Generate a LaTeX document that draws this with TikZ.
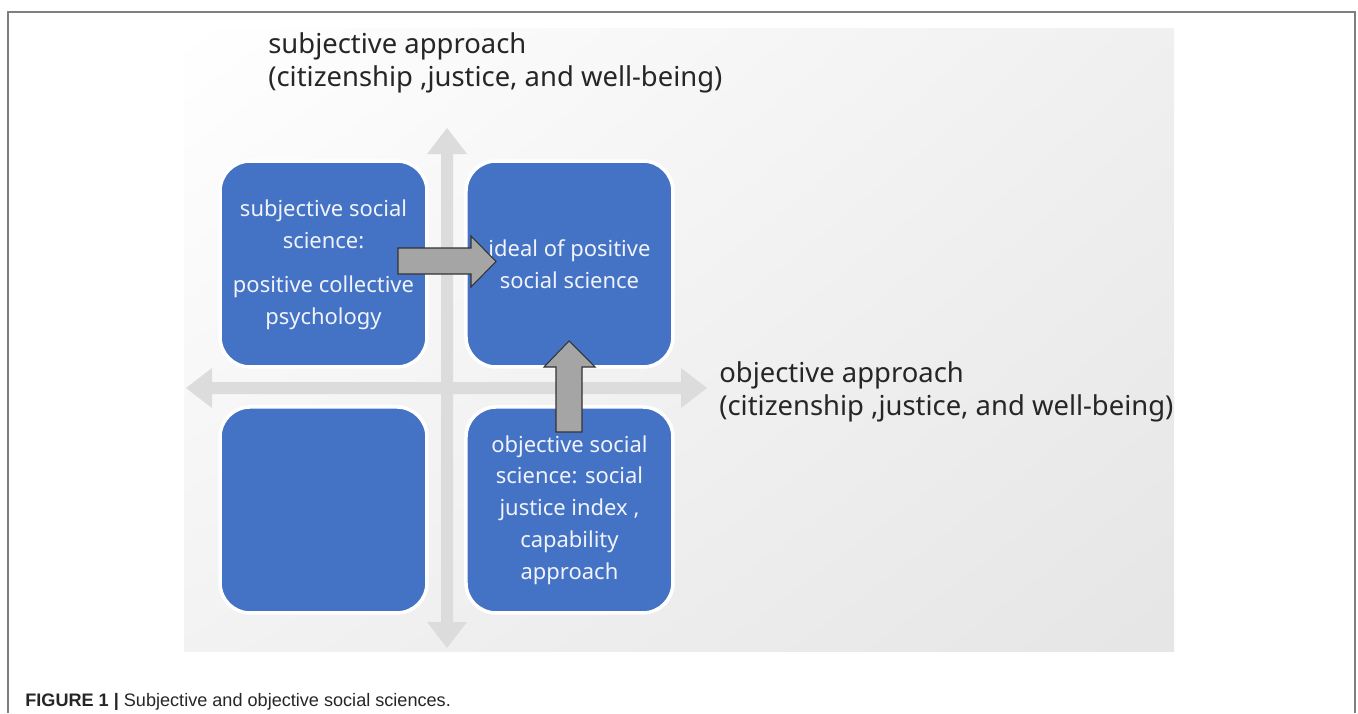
\documentclass[tikz,border=0pt]{standalone}
\usepackage{fontspec}
\setmainfont{Noto Sans}
\newfontfamily\capfont{Liberation Sans}
\usetikzlibrary{positioning, shadings}

\definecolor{boxblue}{HTML}{4472C4}
\definecolor{axisgray}{HTML}{DCDCDC}
\definecolor{arrowgray}{HTML}{A5A5A5}
\definecolor{framegray}{HTML}{7F7F7F}

\tikzset{
  quad/.style={fill=boxblue, draw=white, line width=2pt, rounded corners=0.6cm,
    minimum width=4.14cm, minimum height=4.12cm, outer sep=0pt, inner sep=0pt,
    text=white!92!boxblue, align=center, font=\fontsize{12.5}{18.1}\selectfont},
  axislabel/.style={anchor=north west, inner sep=0pt, align=left, text=black!85,
    font=\fontsize{15.6}{18.9}\selectfont},
  blockarrow/.style={fill=arrowgray, draw=black!80, line width=0.6pt, line join=miter}
}

\begin{document}
\begin{tikzpicture}[x=0.02cm, y=-0.02cm]

  \useasboundingbox (0,0) rectangle (1358,713);

  % Frame
  \draw[framegray, line width=0.8pt] (8,713) -- (8,12) -- (1355,12) -- (1355,713);

  % Background panel
  \shade[upper left=white, upper right=black!6, lower left=black!5, lower right=black!10]
    (184,29) rectangle (1174,651);

  % Axes
  \fill[axisgray] (447,128) -- (467,154) -- (453,154) -- (453,622) -- (467,622)
    -- (447,648) -- (427,622) -- (441,622) -- (441,154) -- (427,154) -- cycle;
  \fill[axisgray] (186,388) -- (212,368) -- (212,382) -- (681,382) -- (681,368)
    -- (707,388) -- (681,408) -- (681,394) -- (212,394) -- (212,408) -- cycle;

  % Axis labels
  \node[axislabel] (subj) at (268,32) {subjective approach\\(citizenship ,justice, and well-being)};
  \node[axislabel] (obj) at (719,361) {objective approach\\(citizenship ,justice, and well-being)};

  % Quadrants
  \node[quad] (tl) at (323.5,264) {\\[-8pt]subjective social\\science:\\[7pt]positive collective\\psychology};
  \node[quad, right=0.78cm of tl] (tr) {ideal of positive\\social science};
  \node[quad, below=0.8cm of tl] (bl) {};
  \node[quad, below=0.8cm of tr] (br) {objective social\\science: social\\justice index ,\\capability\\approach};

  % Block arrows
  \draw[blockarrow] (398,248) -- (471,248) -- (471,236) -- (496,261.5) -- (471,287)
    -- (471,274) -- (398,274) -- cycle;
  \draw[blockarrow] (556,432) -- (556,367) -- (544,367) -- (569,341) -- (595,367)
    -- (582,367) -- (582,432) -- cycle;

  % Caption
  \node[anchor=base west, inner sep=0pt, font=\capfont\fontsize{10.3}{12}\selectfont, text=black!85]
    (cap) at (25,706) {\textbf{FIGURE 1 |} Subjective and objective social sciences.};

\end{tikzpicture}
\end{document}
